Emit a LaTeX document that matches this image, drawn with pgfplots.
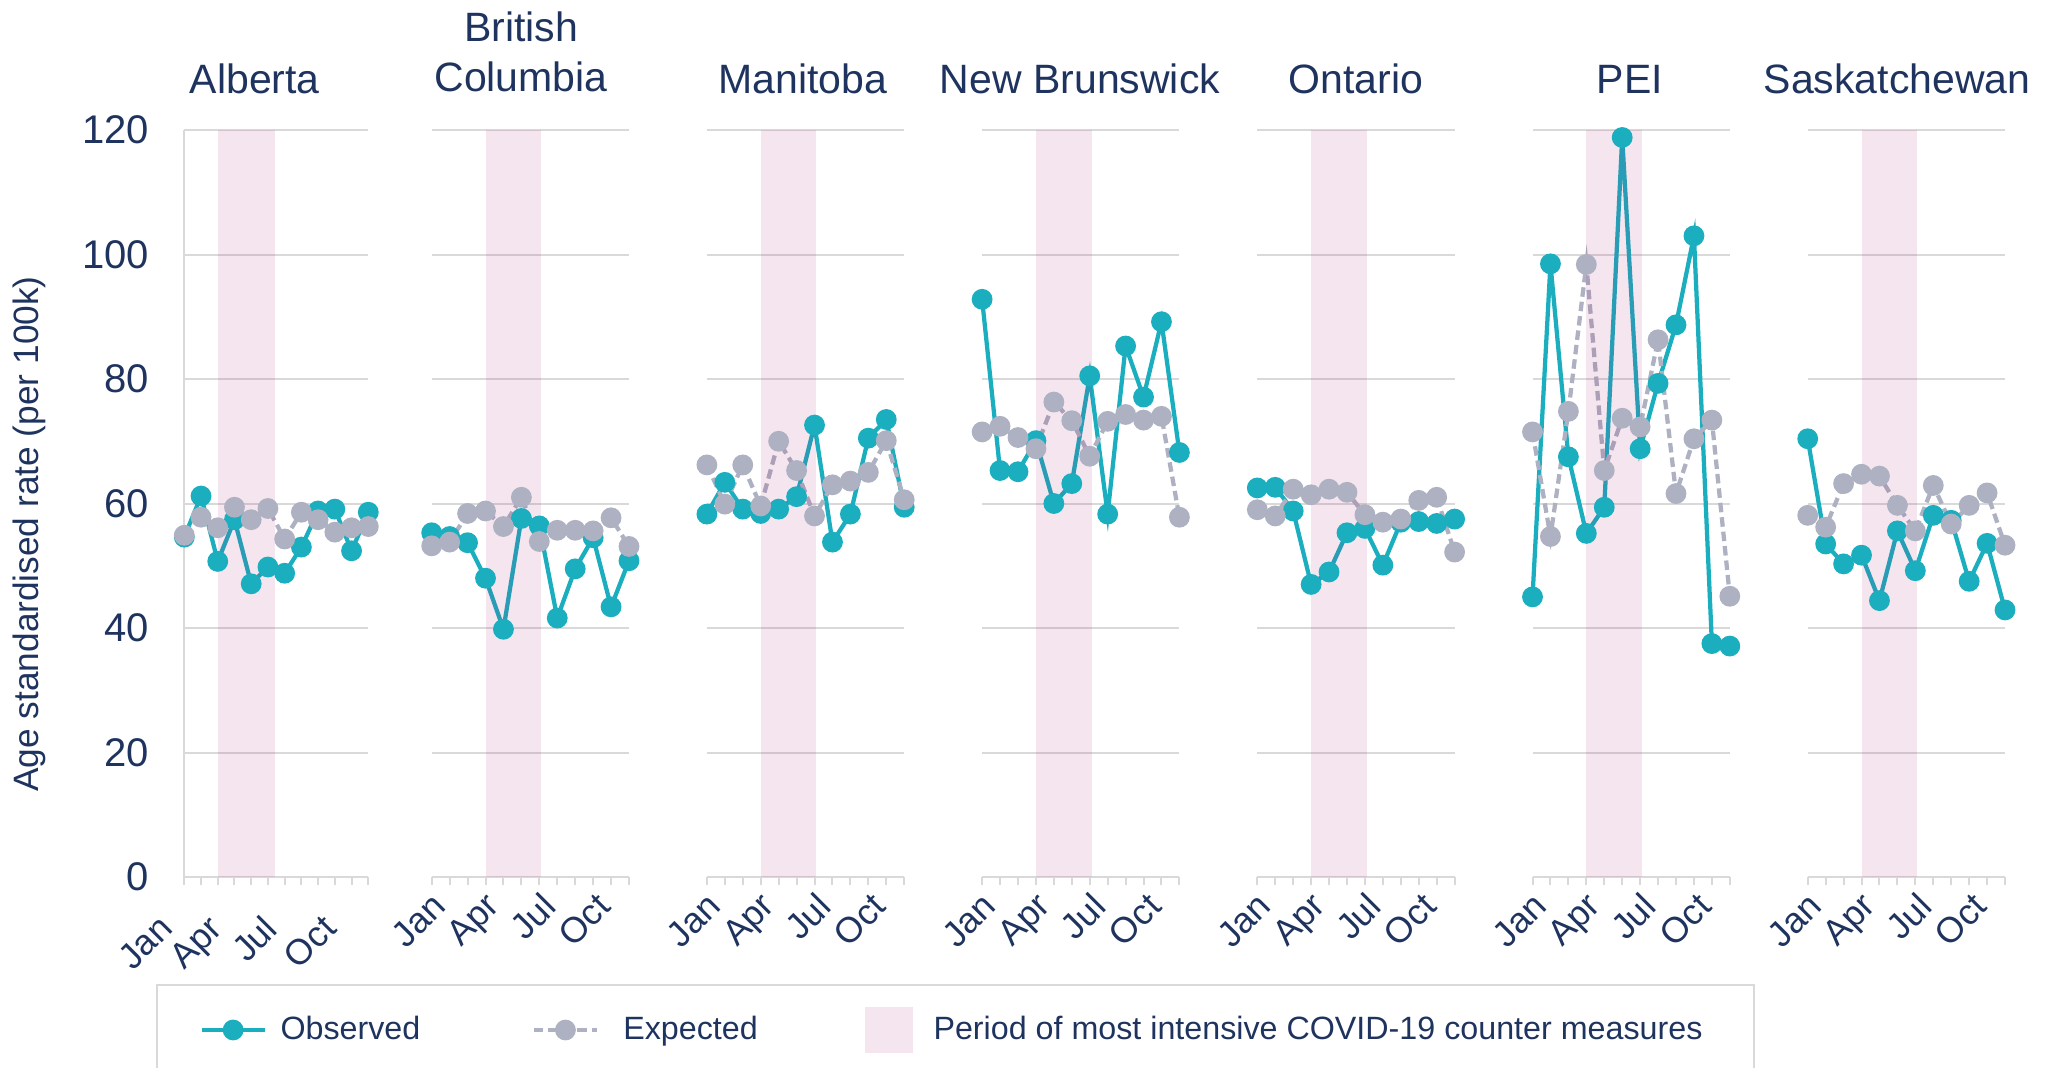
\documentclass[border=0pt]{standalone}
\usepackage{fontspec}
\setmainfont{Liberation Sans}
\usepackage{pgfplots}
\pgfplotsset{compat=1.18}
\definecolor{obs}{HTML}{1AAEBF}
\definecolor{expc}{HTML}{ADB1C1}
\definecolor{bandc}{HTML}{A3287C}
\definecolor{gridgray}{HTML}{D9D9D9}
\definecolor{navy}{HTML}{1F335F}

\pgfplotsset{
  panel/.style={
    scale only axis, width=78.92pt, height=298.8pt, anchor=south west,
    xmin=1, xmax=12, ymin=0, ymax=120, clip=false,
    axis x line*=bottom, axis y line*=left,
    axis line style={gridgray, line width=0.8pt},
    y axis line style={draw=none},
    % labels sit a little off the month ticks, as in the original
    xtick={1.2,4.2,7.3,10.4}, xticklabels={Jan,Apr,Jul,Oct},
    minor xtick={1,...,12},
    ytick={0,20,...,120}, yticklabels={},
    ymajorgrids, major grid style={gridgray, line width=0.8pt},
    tick align=outside, major tick length=3.2pt, minor tick length=3.2pt,
    x tick style={gridgray, line width=0.8pt}, y tick style={draw=none},
    major x tick style={draw=none},
    xticklabel style={rotate=45, anchor=north east, inner sep=0pt,
      font=\fontsize{14.3}{16}\selectfont, text=navy, xshift=-3pt},
  },
  obsline/.style={obs, line width=1.7pt, mark=*, mark size=3.3pt},
  expline/.style={expc, line width=1.7pt, dash pattern=on 3.8pt off 2pt,
    mark=*, mark size=3.3pt, mark options={solid}},
  bandfill/.style={draw=none, fill=bandc, fill opacity=0.12},
  lineleg/.style={legend image code/.code={\draw[##1, mark repeat=2, mark phase=2]
    plot coordinates {(0pt,0pt) (12.6pt,0pt) (25.2pt,0pt)};}},
  bandleg/.style={legend image code/.code={\fill[##1] (0pt,-9.2pt) rectangle (19.2pt,9.2pt);}},
}
\newcommand{\ttl}{\fontsize{16.4}{19.7}\selectfont}

\begin{document}
\begin{tikzpicture}
\useasboundingbox (0,0) rectangle (821.2pt,426.8pt);

% Alberta
\begin{axis}[panel, at={(73.72pt,76pt)}, width=73.6pt,
  xtick={1,4.0,7.24,10.79},
  y axis line style={draw=gridgray},
  yticklabels={0,20,40,60,80,100,120},
  yticklabel style={font=\fontsize{16}{18}\selectfont, text=navy, xshift=-7.3pt},
  /pgf/number format/assume math mode=true,
  xticklabel style={xshift=-12.6pt},
  legend columns=3,
  legend style={draw=none, fill=none, at={(0.0799,-0.2048)}, anchor=west,
    inner sep=0pt, font=\fontsize{12.9}{15}\selectfont, text=navy,
    /tikz/column 1/.style={column sep=3.5pt},
    /tikz/column 2/.style={column sep=42.6pt},
    /tikz/column 3/.style={column sep=7.7pt},
    /tikz/column 4/.style={column sep=41pt},
    /tikz/column 5/.style={column sep=6.1pt}},
  legend cell align=left]
\addplot[obsline, lineleg]
  coordinates {(1,54.6) (2,61.2) (3,50.7) (4,57.4) (5,47.1) (6,49.8) (7,48.8) (8,53.0) (9,58.8) (10,59.1) (11,52.4) (12,58.6)};
\addlegendentry{Observed}
\addplot[expline, lineleg]
  coordinates {(1,54.9) (2,57.8) (3,56.1) (4,59.4) (5,57.4) (6,59.2) (7,54.3) (8,58.6) (9,57.4) (10,55.4) (11,56.1) (12,56.3)};
\addlegendentry{Expected}
\addplot[bandfill, bandleg]
  coordinates {(3,0) (6.4,0) (6.4,120) (3,120)} -- cycle;
\addlegendentry{Period of most intensive COVID-19 counter measures}
\end{axis}

% British Columbia
\begin{axis}[panel, at={(172.68pt,76pt)}]
\addplot[obsline] coordinates {(1,55.3) (2,54.7) (3,53.7) (4,48.0) (5,39.8) (6,57.6) (7,56.4) (8,41.6) (9,49.5) (10,54.5) (11,43.4) (12,50.8)};
\addplot[expline] coordinates {(1,53.2) (2,53.8) (3,58.4) (4,58.8) (5,56.3) (6,61.0) (7,53.9) (8,55.7) (9,55.7) (10,55.6) (11,57.7) (12,53.1)};
\addplot[bandfill] coordinates {(4,0) (7.1,0) (7.1,120) (4,120)} -- cycle;
\end{axis}

% Manitoba
\begin{axis}[panel, at={(282.76pt,76pt)}]
\addplot[obsline] coordinates {(1,58.3) (2,63.4) (3,59.1) (4,58.4) (5,59.1) (6,61.1) (7,72.6) (8,53.8) (9,58.3) (10,70.5) (11,73.5) (12,59.4)};
\addplot[expline] coordinates {(1,66.2) (2,59.9) (3,66.2) (4,59.6) (5,70.0) (6,65.3) (7,58.0) (8,63.0) (9,63.6) (10,65.0) (11,70.1) (12,60.6)};
\addplot[bandfill] coordinates {(4,0) (7.1,0) (7.1,120) (4,120)} -- cycle;
\end{axis}

% New Brunswick
\begin{axis}[panel, at={(392.84pt,76pt)}]
\addplot[obsline] coordinates {(1,92.8) (2,65.3) (3,65.1) (4,70.1) (5,60.0) (6,63.2) (7,80.5) (8,58.3) (9,85.3) (10,77.1) (11,89.2) (12,68.2)};
\addplot[expline] coordinates {(1,71.5) (2,72.4) (3,70.6) (4,68.8) (5,76.3) (6,73.3) (7,67.6) (8,73.2) (9,74.3) (10,73.4) (11,74.0) (12,57.8)};
\addplot[bandfill] coordinates {(4,0) (7.1,0) (7.1,120) (4,120)} -- cycle;
\end{axis}

% Ontario
\begin{axis}[panel, at={(502.92pt,76pt)}]
\addplot[obsline] coordinates {(1,62.5) (2,62.6) (3,58.8) (4,47.0) (5,49.0) (6,55.3) (7,56.0) (8,50.1) (9,57.0) (10,57.1) (11,56.8) (12,57.5)};
\addplot[expline] coordinates {(1,59.0) (2,58.0) (3,62.3) (4,61.4) (5,62.3) (6,61.8) (7,58.2) (8,57.0) (9,57.5) (10,60.5) (11,61.0) (12,52.2)};
\addplot[bandfill] coordinates {(4,0) (7.1,0) (7.1,120) (4,120)} -- cycle;
\end{axis}

% PEI
\begin{axis}[panel, at={(613.0pt,76pt)}]
\addplot[obsline] coordinates {(1,45.0) (2,98.5) (3,67.5) (4,55.2) (5,59.4) (6,118.8) (7,68.8) (8,79.3) (9,88.7) (10,103.0) (11,37.5) (12,37.1)};
\addplot[expline] coordinates {(1,71.5) (2,54.7) (3,74.8) (4,98.4) (5,65.3) (6,73.7) (7,72.3) (8,86.3) (9,61.6) (10,70.4) (11,73.4) (12,45.1)};
\addplot[bandfill] coordinates {(4,0) (7.1,0) (7.1,120) (4,120)} -- cycle;
\end{axis}

% Saskatchewan
\begin{axis}[panel, at={(723.08pt,76pt)}]
\addplot[obsline] coordinates {(1,70.4) (2,53.5) (3,50.3) (4,51.7) (5,44.4) (6,55.6) (7,49.2) (8,58.1) (9,57.3) (10,47.5) (11,53.6) (12,42.9)};
\addplot[expline] coordinates {(1,58.1) (2,56.2) (3,63.2) (4,64.7) (5,64.4) (6,59.7) (7,55.6) (8,62.9) (9,56.7) (10,59.7) (11,61.7) (12,53.3)};
\addplot[bandfill] coordinates {(4,0) (7.1,0) (7.1,120) (4,120)} -- cycle;
\end{axis}

% titles
\node[anchor=base, font=\ttl, text=navy] at (101.9pt,389.2pt) {Alberta};
\node[anchor=base, font=\ttl, text=navy] at (208.4pt,410pt) {British};
\node[anchor=base, font=\ttl, text=navy] at (208.4pt,390pt) {Columbia};
\node[anchor=base, font=\ttl, text=navy] at (321.2pt,389.2pt) {Manitoba};
\node[anchor=base, font=\ttl, text=navy] at (432pt,389.2pt) {New Brunswick};
\node[anchor=base, font=\ttl, text=navy] at (542.4pt,389.2pt) {Ontario};
\node[anchor=base, font=\ttl, text=navy] at (652pt,389.2pt) {PEI};
\node[anchor=base, font=\ttl, text=navy] at (758.8pt,389.2pt) {Saskatchewan};

\node[rotate=90, font=\fontsize{14.1}{17}\selectfont, text=navy] at (11.6pt,213.2pt)
  {Age standardised rate (per 100k)};

% legend frame
\draw[gridgray, line width=0.8pt] (62.8pt,-5pt) rectangle (701.6pt,32.96pt);
\end{tikzpicture}
\end{document}
